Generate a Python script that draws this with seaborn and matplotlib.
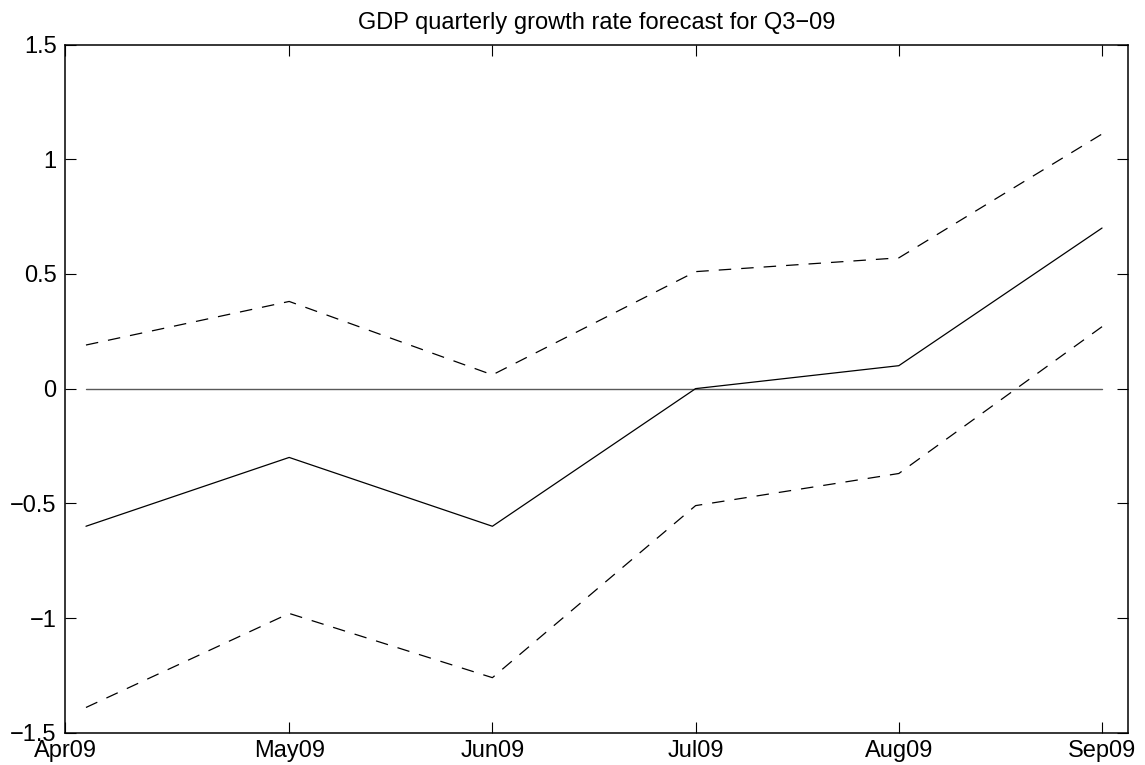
import numpy as np
import pandas as pd
import matplotlib
matplotlib.use("Agg")
import matplotlib.pyplot as plt
import seaborn as sns

# Forecast path and band, one value per monthly vintage
months = ["Apr09", "May09", "Jun09", "Jul09", "Aug09", "Sep09"]
forecast = [-0.60, -0.30, -0.60, 0.00, 0.10, 0.70]
upper_band = [0.19, 0.38, 0.06, 0.51, 0.57, 1.11]
lower_band = [-1.39, -0.98, -1.26, -0.51, -0.37, 0.27]
title_text = "GDP quarterly growth rate forecast for Q3\u221209"
y_ticks = [-1.5, -1, -0.5, 0, 0.5, 1, 1.5]

sns.set_style("white")
plt.rcParams["font.family"] = ["Liberation Sans", "DejaVu Sans"]
plt.rcParams["axes.unicode_minus"] = True

pos = np.arange(len(months))
df = pd.DataFrame({"pos": pos, "forecast": forecast,
                   "upper": upper_band, "lower": lower_band,
                   "zero": np.zeros(len(months))})

fig = plt.figure(figsize=(11.45, 7.65), dpi=100)
ax = fig.add_axes([0.0568, 0.0422, 0.9284, 0.8996])

sns.lineplot(data=df, x="pos", y="zero", ax=ax, color="0.35", lw=1.0)
sns.lineplot(data=df, x="pos", y="forecast", ax=ax, color="black", lw=0.9)
for col in ["upper", "lower"]:
    line = sns.lineplot(data=df, x="pos", y=col, ax=ax, color="black", lw=0.9)
    line.lines[-1].set_dashes((10, 8))

x_left = -0.103
x_right = 5.128
ax.set_xlim(x_left, x_right)
ax.set_ylim(-1.5, 1.5)

ax.set_xticks([x_left] + list(pos[1:]))
ax.set_xticklabels(months)
ax.set_yticks(y_ticks)
ax.set_yticklabels([f"{v:g}".replace("-", "\u2212") for v in y_ticks])

ax.set_xlabel("")
ax.set_ylabel("")
ax.set_title(title_text, fontsize=17, pad=11, color="black")

for side in ["left", "right", "top", "bottom"]:
    ax.spines[side].set_visible(True)
    ax.spines[side].set_color("black")
    ax.spines[side].set_linewidth(1.1)

ax.tick_params(axis="both", direction="in", length=8, width=0.8,
               colors="black", labelsize=17,
               top=True, right=True, bottom=True, left=True)
ax.tick_params(axis="x", pad=5)
ax.tick_params(axis="y", pad=6)

fig.savefig("out.png", dpi=100)
